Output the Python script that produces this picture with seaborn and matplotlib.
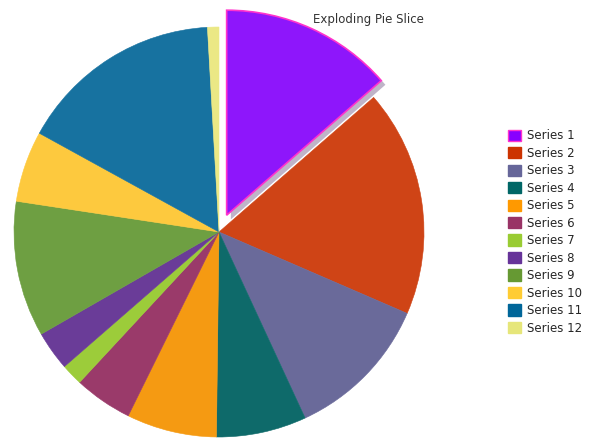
import matplotlib
matplotlib.use("Agg")
import matplotlib.pyplot as plt
import matplotlib.patches as mpatches
import matplotlib.patheffects as pe
import seaborn as sns

sns.set_theme(style="white")
plt.rcParams['font.family'] = ['DejaVu Sans']

series = ["Series 1", "Series 2", "Series 3", "Series 4", "Series 5", "Series 6",
          "Series 7", "Series 8", "Series 9", "Series 10", "Series 11", "Series 12"]
values = [13.6, 17.9, 11.6, 7.1, 7.1, 4.6, 1.7, 3.1, 10.7, 5.6, 16.1, 0.9]
pie_colors = ["#8e16fb", "#cf4416", "#6a6a9a", "#0e6a6a", "#f59a12", "#9a3a6a",
              "#9ccc3a", "#6a3c98", "#6e9f42", "#fdc93e", "#1772a0", "#ebe885"]
legend_colors = ["#8800ff", "#cc3300", "#666699", "#006666", "#ff9900", "#993366",
                 "#99cc33", "#663399", "#669933", "#ffcc33", "#006699", "#e6e67a"]
explode = [0.09, 0, 0, 0, 0, 0, 0, 0, 0, 0, 0, 0]

W, H = 589, 440
fig = plt.figure(figsize=(W / 100, H / 100), dpi=100)
cx, cy, r = 219, 232, 205
ax = fig.add_axes([(cx - r) / W, (H - cy - r) / H, 2 * r / W, 2 * r / H])
wedges, _ = ax.pie(values, colors=pie_colors, startangle=90, counterclock=False,
                   explode=explode, radius=1.0,
                   wedgeprops=dict(linewidth=0.4))
for w, c in zip(wedges, pie_colors):
    w.set_edgecolor(c)
wedges[0].set_edgecolor("#ff33cc")
wedges[0].set_linewidth(1.2)
wedges[0].set_path_effects([pe.SimplePatchShadow(offset=(3, -3), alpha=0.3), pe.Normal()])
ax.set_xlim(-1, 1)
ax.set_ylim(-1, 1)
ax.set_aspect("equal")
ax.axis("off")
for w in wedges:
    w.set_clip_on(False)

fig.text(368 / W, 1 - 20 / H, "Exploding Pie Slice", ha="center", va="center",
         fontsize=8.5, color="#333333")

handles = []
for i, (lab, c) in enumerate(zip(series, legend_colors)):
    ec = "#ff33cc" if i == 0 else c
    handles.append(mpatches.Patch(facecolor=c, edgecolor=ec, linewidth=1.0, label=lab))
fig.legend(handles=handles, loc="upper left", bbox_to_anchor=(500 / W, 1 - 121 / H),
           frameon=False, fontsize=8.5, handlelength=1.1, handleheight=1.1,
           handletextpad=0.5, labelspacing=0.38, borderpad=0.2)

fig.savefig("out.png", dpi=100)
